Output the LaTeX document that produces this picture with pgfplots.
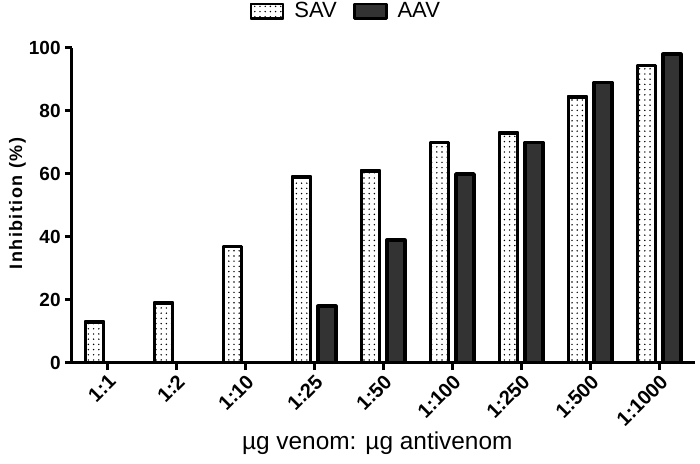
\documentclass[border=0pt]{standalone}
\usepackage{fontspec}
\setmainfont{Liberation Sans}
\newfontfamily\ylabfont[LetterSpace=8]{Liberation Sans}
\usepackage{pgfplots}
\pgfplotsset{compat=1.18}
\usetikzlibrary{patterns.meta}
\definecolor{aavgray}{HTML}{333333}

\begin{document}
\begin{tikzpicture}
\useasboundingbox (-36pt,-50.5pt) rectangle (314pt,181.5pt);
\begin{axis}[at={(0,0)},anchor=south west,scale only axis,
width=311.5pt,height=157.5pt,
ybar=3.8pt,bar width=9pt,
xmin=-0.51,xmax=8.52,ymin=0,ymax=100,
xtick={0,...,8},
xticklabels={1:1,1:2,1:10,1:25,1:50,1:100,1:250,1:500,1:1000},
ytick={0,20,...,100},
axis x line*=bottom,axis y line*=left,
axis line style={line width=1.5pt,-},
tick align=outside,major tick length=3.5pt,
tick style={line width=1.5pt,black},
/pgf/number format/assume math mode=true,
yticklabel style={font=\fontsize{9.5}{10}\selectfont\bfseries,inner sep=2pt},
xticklabel style={font=\fontsize{10}{11}\selectfont\bfseries,rotate=45,anchor=north east,inner sep=1pt},
ylabel={\ylabfont\bfseries Inhibition (\%)},
xlabel={µg venom: µg antivenom},
y label style={at={(axis description cs:-0.0875,0.506)},anchor=center,font=\fontsize{9}{10}\selectfont},
x label style={at={(axis description cs:0.49,-0.255)},anchor=center,font=\fontsize{12.2}{14}\selectfont},
legend columns=-1,
legend style={draw=none,at={(axis description cs:0.441,1.117)},anchor=center,
  font=\fontsize{11}{12}\selectfont,
  /tikz/every odd column/.append style={column sep=3pt},
  /tikz/every even column/.append style={column sep=6pt}},
legend image code/.code={\draw[#1,line width=1.4pt] (0pt,-3.6pt) rectangle (16pt,3.6pt);},
]
\addplot[draw=black,line width=1.8pt,line join=round,fill=white,
  postaction={pattern={Dots[distance=2.6pt,radius=0.4pt]}}]
  coordinates {(0,13) (1,19) (2,37) (3,59) (4,61) (5,70) (6,73) (7,84.5) (8,94.5)};
\addplot[draw=black,line width=1.8pt,line join=round,fill=aavgray]
  coordinates {(3,18) (4,39) (5,60) (6,70) (7,89) (8,98)};
\legend{SAV,AAV}
\end{axis}
\end{tikzpicture}
\end{document}
